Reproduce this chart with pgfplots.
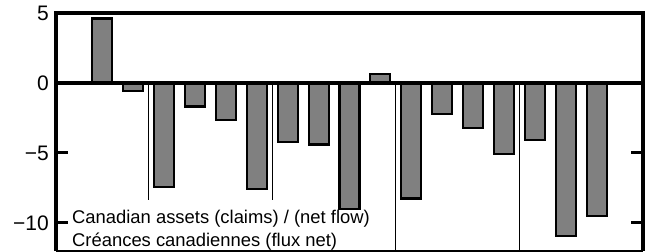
\documentclass[border=0pt]{standalone}
\usepackage{pgfplots}
\pgfplotsset{compat=1.18}
\usepackage{fontspec}
\setmainfont{Liberation Sans}
\definecolor{barfill}{RGB}{128,128,128}
\newcommand{\tl}[1]{\fontsize{21bp}{24bp}\selectfont #1}
\begin{document}
\fontsize{18bp}{22bp}\selectfont
\begin{tikzpicture}
\path[use as bounding box] (0,0) rectangle (646bp,252bp);
\begin{axis}[
  at={(56bp,1bp)}, anchor=south west,
  scale only axis, width=587bp, height=238bp,
  xmin=-0.5, xmax=18.5, ymin=-12, ymax=5,
  axis line style={draw=none},
  xtick=\empty,
  ytick={-10,-5,0,5}, yticklabels={{\tl{−10}},{\tl{−5}},{\tl{0}},{\tl{5}}},
  ytick pos=both,
  tick align=inside,
  major tick length=12bp,
  major tick style={line width=3bp, black},
  yticklabel style={inner sep=1bp, xshift=-6bp},
  ybar, bar width=20bp,
  clip=false,
]
\draw[line width=0.9bp] (axis cs:2.5,0) -- (axis cs:2.5,-8.36);
\draw[line width=0.9bp] (axis cs:6.5,0) -- (axis cs:6.5,-8.36);
\draw[line width=0.9bp] (axis cs:10.5,0) -- (axis cs:10.5,-12);
\draw[line width=0.9bp] (axis cs:14.5,0) -- (axis cs:14.5,-12);
\addplot[fill=barfill, draw=black, line width=2.2bp] coordinates {
 (0,0) (1,4.6) (2,-0.6) (3,-7.42) (4,-1.68) (5,-2.62) (6,-7.59) (7,-4.21)
 (8,-4.4) (9,-9.0) (10,0.64) (11,-8.25) (12,-2.22) (13,-3.21) (14,-5.1)
 (15,-4.09) (16,-10.94) (17,-9.48) (18,0)
};
\draw[line width=3.2bp] (axis cs:-0.5,0) -- (axis cs:18.5,0);
\draw[line width=1.2bp] (rel axis cs:0,0) -- (rel axis cs:1,0);
\draw[line width=3.2bp] (rel axis cs:0,0) -- (rel axis cs:0,1) -- (rel axis cs:1,1) -- (rel axis cs:1,0);
\node[anchor=base west, inner sep=0pt, font=\fontsize{18.4bp}{22bp}\selectfont] at (axis cs:0.018,-10.07) {Canadian assets (claims) / (net flow)};
\node[anchor=base west, inner sep=0pt, font=\fontsize{18.4bp}{22bp}\selectfont] at (axis cs:0.018,-11.71) {Créances canadiennes (flux net)};
\end{axis}
\end{tikzpicture}
\end{document}
